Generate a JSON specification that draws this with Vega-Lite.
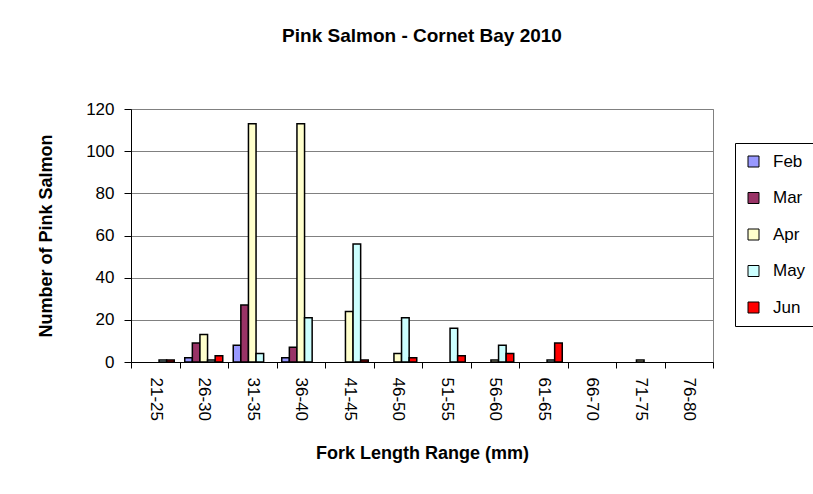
{
  "$schema": "https://vega.github.io/schema/vega-lite/v6.json",
  "autosize": {"type": "none"},
  "padding": {"left": 131, "top": 109, "right": 100, "bottom": 131},
  "width": 582,
  "height": 253,
  "background": "white",
  "title": {
    "text": "Pink Salmon - Cornet Bay 2010",
    "fontSize": 19,
    "fontWeight": "bold",
    "font": "Liberation Sans",
    "color": "black",
    "anchor": "middle",
    "offset": 54
  },
  "config": {
    "font": "Liberation Sans",
    "view": {"stroke": "#808080", "strokeWidth": 1},
    "axis": {
      "labelColor": "black",
      "labelFontSize": 17,
      "labelFont": "Liberation Sans",
      "titleFont": "Liberation Sans",
      "titleFontSize": 18,
      "titleFontWeight": "bold",
      "titleColor": "black",
      "domain": true,
      "domainColor": "black",
      "domainWidth": 1,
      "tickColor": "black"
    }
  },
  "data": {
    "values": [
      {"range": "21-25", "month": "May", "count": 1},
      {"range": "21-25", "month": "Jun", "count": 1},
      {"range": "26-30", "month": "Feb", "count": 2},
      {"range": "26-30", "month": "Mar", "count": 9},
      {"range": "26-30", "month": "Apr", "count": 13},
      {"range": "26-30", "month": "May", "count": 1},
      {"range": "26-30", "month": "Jun", "count": 3},
      {"range": "31-35", "month": "Feb", "count": 8},
      {"range": "31-35", "month": "Mar", "count": 27},
      {"range": "31-35", "month": "Apr", "count": 113},
      {"range": "31-35", "month": "May", "count": 4},
      {"range": "36-40", "month": "Feb", "count": 2},
      {"range": "36-40", "month": "Mar", "count": 7},
      {"range": "36-40", "month": "Apr", "count": 113},
      {"range": "36-40", "month": "May", "count": 21},
      {"range": "41-45", "month": "Apr", "count": 24},
      {"range": "41-45", "month": "May", "count": 56},
      {"range": "41-45", "month": "Jun", "count": 1},
      {"range": "46-50", "month": "Apr", "count": 4},
      {"range": "46-50", "month": "May", "count": 21},
      {"range": "46-50", "month": "Jun", "count": 2},
      {"range": "51-55", "month": "May", "count": 16},
      {"range": "51-55", "month": "Jun", "count": 3},
      {"range": "56-60", "month": "Apr", "count": 1},
      {"range": "56-60", "month": "May", "count": 8},
      {"range": "56-60", "month": "Jun", "count": 4},
      {"range": "61-65", "month": "May", "count": 1},
      {"range": "61-65", "month": "Jun", "count": 9},
      {"range": "71-75", "month": "Apr", "count": 1}
    ]
  },
  "mark": {"type": "bar", "stroke": "black", "strokeWidth": 1.5},
  "encoding": {
    "x": {
      "field": "range",
      "type": "nominal",
      "scale": {
        "domain": ["21-25","26-30","31-35","36-40","41-45","46-50","51-55","56-60","61-65","66-70","71-75","76-80"],
        "paddingInner": 0,
        "paddingOuter": 0
      },
      "axis": {
        "title": "Fork Length Range (mm)",
        "labelAngle": 90,
        "labelPadding": 9,
        "tickSize": 6,
        "tickBand": "extent",
        "titlePadding": 24
      }
    },
    "xOffset": {
      "field": "month",
      "type": "nominal",
      "scale": {"domain": ["Feb","Mar","Apr","May","Jun"], "paddingInner": 0, "paddingOuter": 0.69}
    },
    "y": {
      "field": "count",
      "type": "quantitative",
      "scale": {"domain": [0, 120], "nice": false},
      "axis": {
        "title": "Number of Pink Salmon",
        "values": [0, 20, 40, 60, 80, 100, 120],
        "gridColor": "#808080",
        "gridOpacity": 1,
        "tickSize": 7,
        "labelPadding": 10,
        "titlePadding": 30
      }
    },
    "color": {
      "field": "month",
      "type": "nominal",
      "scale": {
        "domain": ["Feb","Mar","Apr","May","Jun"],
        "range": ["#9999FF","#993366","#FFFFCC","#CCFFFF","#FF0000"]
      },
      "legend": {
        "title": null,
        "orient": "none",
        "legendX": 604,
        "legendY": 34,
        "strokeColor": "black",
        "padding": 10,
        "labelFontSize": 17,
        "labelColor": "black",
        "labelFont": "Liberation Sans",
        "labelOffset": 11,
        "symbolType": "square",
        "symbolSize": 121,
        "symbolStrokeColor": "black",
        "symbolStrokeWidth": 1,
        "symbolOpacity": 1,
        "rowPadding": 18.5
      }
    }
  }
}
